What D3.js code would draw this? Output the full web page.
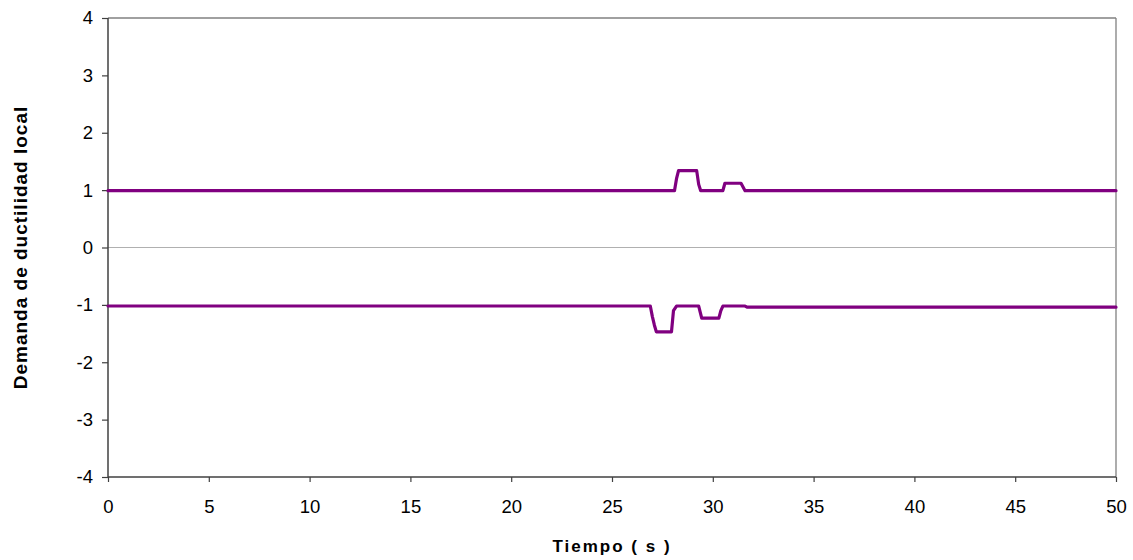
<!DOCTYPE html>
<html><head><meta charset="utf-8">
<script src="https://cdn.jsdelivr.net/npm/d3@7"></script>
<style>body{margin:0;background:#fff}svg{display:block}</style>
</head><body>
<svg id="c" width="1133" height="560"></svg>
<script>
const xTicks = [0,5,10,15,20,25,30,35,40,45,50];
const yTicks = [-4,-3,-2,-1,0,1,2,3,4];
const upperTime  = [0, 28.1, 28.2, 28.3, 29.2, 29.3, 29.4, 30.5, 30.6, 31.4, 31.6, 50];
const upperValue = [0.99, 0.99, 1.2, 1.34, 1.34, 1.1, 0.99, 0.99, 1.12, 1.12, 0.99, 0.99];
const lowerTime  = [0, 26.9, 27.0, 27.1, 27.2, 27.95, 28.05, 28.2, 29.3, 29.45, 30.3, 30.4, 30.5, 31.6, 31.7, 50];
const lowerValue = [-1.02, -1.02, -1.2, -1.35, -1.47, -1.47, -1.1, -1.02, -1.02, -1.23, -1.23, -1.1, -1.02, -1.02, -1.04, -1.04];

const svg = d3.select("#c");
const L = 108, R = 1116, T = 18, B = 477;
const x = d3.scaleLinear().domain([0,50]).range([L,R]);
const y = d3.scaleLinear().domain([-4,4]).range([B,T]);
const font = "'Liberation Sans', Arial, sans-serif";

// plot frame (top/right)
svg.append("line").attr("x1",L).attr("x2",R).attr("y1",T).attr("y2",T).attr("stroke","#808080").attr("stroke-width",1.3);
svg.append("line").attr("x1",R).attr("x2",R).attr("y1",T).attr("y2",B).attr("stroke","#808080").attr("stroke-width",1.3);
// zero line
svg.append("line").attr("x1",L).attr("x2",R).attr("y1",y(0)).attr("y2",y(0)).attr("stroke","#b0b0b0").attr("stroke-width",1);

// axes
const fmt = d => String(d);
const yAxis = d3.axisLeft(y).tickValues(yTicks).tickSize(6).tickPadding(9).tickFormat(fmt);
const gy = svg.append("g").attr("transform",`translate(${L},0)`).call(yAxis);
const xAxis = d3.axisBottom(x).tickValues(xTicks).tickSize(5).tickPadding(18).tickFormat(fmt);
const gx = svg.append("g").attr("transform",`translate(0,${B})`).call(xAxis);
[gx,gy].forEach(g=>{
  g.select(".domain").attr("stroke","#404040").attr("stroke-width",1.5);
  g.selectAll(".tick line").attr("stroke","#404040").attr("stroke-width",1.2);
  g.selectAll("text").attr("font-family",font).attr("font-size",18.5).attr("fill","#000");
});
gx.select(".domain").attr("d",`M${L},0H${R}`);
gy.select(".domain").attr("d",`M0,${T}V${B}`);

// series
const line = d3.line().x(d=>x(d[0])).y(d=>y(d[1])).curve(d3.curveLinear);
const up = upperTime.map((t,i)=>[t,upperValue[i]]);
const lo = lowerTime.map((t,i)=>[t,lowerValue[i]]);
[up,lo].forEach(s=>{
  svg.append("path").attr("d",line(s)).attr("fill","none").attr("stroke","#800080")
    .attr("stroke-width",3.2).attr("stroke-linejoin","round").attr("stroke-linecap","round");
});

// titles
svg.append("text").attr("x",(L+R)/2).attr("y",552).attr("text-anchor","middle")
  .attr("font-family",font).attr("font-size",17).attr("font-weight","bold")
  .attr("letter-spacing","2px").text("Tiempo ( s )");
svg.append("text").attr("transform",`translate(27,${(T+B)/2}) rotate(-90)`).attr("text-anchor","middle")
  .attr("font-family",font).attr("font-size",19).attr("font-weight","bold")
  .attr("letter-spacing","1px").text("Demanda de ductilidad local");
</script>
</body></html>
